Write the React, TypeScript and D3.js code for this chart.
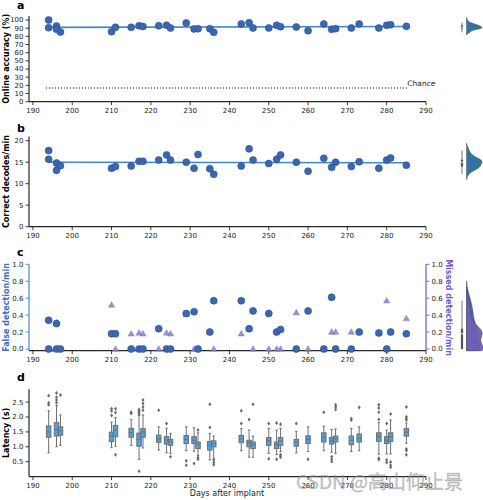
import React from "react";
import * as d3 from "d3";

// ---------- data ----------
const sessionDays = [194, 194, 196, 196, 197, 210, 211, 215, 217, 218, 222, 224, 225, 229, 231, 232, 235, 236, 243, 245, 246, 250, 252, 253, 257, 260, 264, 266, 267, 271, 273, 278, 280, 281, 285];
const accuracy = [100, 90.6, 92.6, 88.6, 85.3, 85.7, 91, 91, 93, 92, 93, 93.5, 90.2, 96.3, 89, 89.4, 89.4, 84.9, 95.1, 96.7, 90.2, 90.2, 93.5, 91.8, 91.4, 86.9, 95.1, 88.6, 89.4, 90.2, 95.1, 90.2, 93.5, 94.3, 92.2];
const correctDecodes = [17.7, 15.7, 14.8, 13.1, 14.2, 13.6, 14.0, 14.1, 15.2, 15.2, 15.5, 16.7, 15.5, 15.0, 13.6, 16.8, 13.5, 12.2, 14.1, 18.1, 15.5, 14.7, 15.7, 16.7, 15.0, 12.9, 15.9, 13.8, 15.0, 14.0, 15.1, 13.6, 15.5, 16.0, 14.3];
const falseDetection = [0.34, 0.0, 0.30, 0.0, 0.0, 0.18, 0.18, 0.0, 0.0, 0.0, 0.24, 0.0, 0.0, 0.42, 0.44, 0.0, 0.20, 0.57, 0.57, 0.24, 0.45, 0.42, 0.20, 0.23, 0.0, 0.45, 0.0, 0.61, 0.0, 0.0, 0.20, 0.19, 0.0, 0.20, 0.18];
const missedDetection = [0.0, 0.0, 0.31, 0.0, 0.0, 0.52, 0.0, 0.18, 0.19, 0.18, 0.0, 0.19, 0.18, 0.41, 0.0, 0.0, 0.20, 0.0, 0.18, 0.24, 0.0, 0.0, 0.0, 0.0, 0.43, 0.0, 0.0, 0.20, 0.20, 0.20, 0.20, 0.19, 0.57, 0.20, 0.36];
const chanceLevel = 16.7;

const boxDays = [194, 196, 197, 210, 211, 215, 217, 218, 222, 224, 225, 229, 231, 232, 235, 236, 243, 245, 246, 250, 252, 253, 257, 260, 264, 266, 267, 271, 273, 278, 280, 281, 285];
const latQ1 = [1.32, 1.36, 1.39, 1.18, 1.34, 1.32, 1.02, 1.32, 1.15, 1.09, 1.05, 1.11, 1.11, 0.94, 0.89, 1.0, 1.14, 1.0, 0.94, 1.05, 0.94, 1.05, 1.02, 1.11, 1.16, 1.09, 1.16, 1.07, 1.16, 1.18, 1.11, 1.18, 1.36];
const latMedian = [1.5, 1.58, 1.54, 1.36, 1.56, 1.47, 1.25, 1.5, 1.27, 1.22, 1.17, 1.25, 1.22, 1.07, 1.05, 1.11, 1.27, 1.14, 1.07, 1.2, 1.07, 1.2, 1.16, 1.25, 1.32, 1.2, 1.27, 1.22, 1.29, 1.34, 1.22, 1.34, 1.49];
const latQ3 = [1.7, 1.81, 1.67, 1.49, 1.72, 1.62, 1.46, 1.61, 1.39, 1.34, 1.25, 1.38, 1.34, 1.16, 1.18, 1.2, 1.38, 1.22, 1.16, 1.31, 1.16, 1.31, 1.25, 1.37, 1.47, 1.31, 1.36, 1.36, 1.43, 1.47, 1.34, 1.47, 1.61];
const latWhiskerLo = [0.8, 1.0, 1.05, 0.97, 1.02, 1.05, 0.58, 0.96, 0.89, 0.8, 0.78, 0.87, 0.85, 0.71, 0.56, 0.6, 0.87, 0.65, 0.65, 0.78, 0.74, 0.84, 0.8, 0.84, 0.87, 0.82, 0.78, 0.84, 0.87, 0.75, 0.76, 0.76, 1.12];
const latWhiskerHi = [2.21, 2.39, 2.07, 1.83, 1.98, 1.92, 2.05, 2.07, 1.67, 1.62, 1.45, 1.67, 1.64, 1.47, 1.45, 1.36, 1.61, 1.56, 1.36, 1.62, 1.56, 1.62, 1.52, 1.67, 1.69, 1.58, 1.6, 1.62, 1.67, 1.81, 1.56, 1.9, 1.8];
const latOutliers = [
  [2.71, 2.48, 2.41], [2.81, 2.66, 2.57, 2.48], [2.74], [2.28, 2.2, 2.05], [2.28, 2.15, 0.73],
  [2.16, 2.12], [2.25, 2.2, 2.15, 2.1, 0.18], [2.57, 2.45, 2.34, 2.23], [2.23], [1.78],
  [0.67], [0.53, 0.38], [0.44], [1.56, 0.65, 0.58], [2.43, 1.65],
  [0.56, 0.47, 0.4], [2.21, 1.78], [1.92], [2.43], [1.78, 0.6],
  [1.8, 0.58], [1.76, 0.73, 0.69, 0.65], [1.78], [0.58], [2.16],
  [0.67, 0.58, 0.51], [2.41, 2.34, 2.25], [1.94, 1.9], [2.32], [2.41, 2.3, 2.16, 1.92, 0.62, 0.57],
  [1.78, 0.56, 0.47], [2.1, 0.49, 0.38, 0.31], [2.34, 2.01, 1.95, 1.9, 0.93, 0.88, 0.73],
];

const xTickValues = [190, 200, 210, 220, 230, 240, 250, 260, 270, 280, 290];
const accTicks = [0, 10, 20, 30, 40, 50, 60, 70, 80, 90, 100];
const decTicks = [0, 5, 10, 15, 20];
const detTicks = [0, 0.2, 0.4, 0.6, 0.8, 1.0];
const latTicks = [0.5, 1.0, 1.5, 2.0, 2.5];

// ---------- styles ----------
const FONT = "DejaVu Sans";
const AX = "#262626";
const DOT = "#3b67b2";
const DOT_EDGE = "#2b4f8e";
const REG = "#3f88cc";
const VIOLIN = "#3274a1";
const BLUE_LBL = "#3a70c0";
const PURPLE = "#6a5acd";
const TRI = "#8b7fc6";
const BOX = "#4aa3df";
const BOX_EDGE = "#6e6e6e";

const x = d3.scaleLinear().domain([189, 290]).range([29, 426]);
const yA = d3.scaleLinear().domain([0, 105]).range([101.7, 15.9]);
const yB = d3.scaleLinear().domain([0, 21]).range([226.7, 136.4]);
const yC = d3.scaleLinear().domain([-0.02, 1.0]).range([350.7, 264.3]);
const yD = d3.scaleLinear().domain([0, 2.93]).range([476.6, 389.3]);

function XAxis({ y0 }: { y0: number }) {
  return (
    <g>
      <line x1={x.range()[0]} x2={x.range()[1]} y1={y0} y2={y0} stroke={AX} strokeWidth={1.2} />
      {xTickValues.map((t) => (
        <g key={t}>
          <line x1={x(t)} x2={x(t)} y1={y0} y2={y0 + 3.5} stroke={AX} strokeWidth={0.9} />
          <text x={x(t)} y={y0 + 11} fontSize={7} textAnchor="middle" fill="#222">{t}</text>
        </g>
      ))}
    </g>
  );
}

function YAxis({ scale, ticks, fmt, side = "left", color = AX, xPos }: any) {
  const [r0, r1] = scale.range();
  const dir = side === "left" ? -1 : 1;
  return (
    <g>
      <line x1={xPos} x2={xPos} y1={r0} y2={r1} stroke={color} strokeWidth={1.2} />
      {ticks.map((t: number) => (
        <g key={t}>
          <line x1={xPos} x2={xPos + dir * 3.5} y1={scale(t)} y2={scale(t)} stroke={color} strokeWidth={0.9} />
          <text x={xPos + dir * 5.5} y={scale(t)} dy="0.35em" fontSize={7} textAnchor={side === "left" ? "end" : "start"} fill="#222">{fmt(t)}</text>
        </g>
      ))}
    </g>
  );
}

function regression(xs: number[], ys: number[]) {
  const mx = d3.mean(xs)!, my = d3.mean(ys)!;
  let num = 0, den = 0;
  xs.forEach((v, i) => { num += (v - mx) * (ys[i] - my); den += (v - mx) ** 2; });
  const slope = num / den;
  return (v: number) => my + slope * (v - mx);
}

function kde(values: number[], lo: number, hi: number) {
  const sd = d3.deviation(values)!;
  const bw = sd * Math.pow(values.length, -1 / 5);
  const a = Math.max(d3.min(values)! - 2 * bw, lo);
  const b = Math.min(d3.max(values)! + 2 * bw, hi);
  const n = 120;
  return d3.range(n + 1).map((i) => {
    const yv = a + ((b - a) * i) / n;
    const dens = d3.mean(values, (v) => Math.exp(-0.5 * ((yv - v) / bw) ** 2))! / bw;
    return [yv, dens] as [number, number];
  });
}

function innerStats(values: number[]) {
  const s = [...values].sort((p, q) => p - q);
  const q1 = d3.quantile(s, 0.25)!, q3 = d3.quantile(s, 0.75)!, med = d3.quantile(s, 0.5)!;
  const iqr = q3 - q1;
  const lo = d3.min(s.filter((v) => v >= q1 - 1.5 * iqr))!;
  const hi = d3.max(s.filter((v) => v <= q3 + 1.5 * iqr))!;
  return { q1, q3, med, lo, hi };
}

function Violin({ series, scale, maxW }: { series: { values: number[]; color: string; opacity: number }[]; scale: any; maxW: number }) {
  const [dlo, dhi] = scale.domain();
  const x0 = 466.5;
  const cx = 462;
  const dens = series.map((s) => kde(s.values, dlo, dhi));
  const maxD = d3.max(dens.flat(), (d) => d[1])!;
  const all = series.flatMap((s) => s.values);
  const st = innerStats(all);
  return (
    <g>
      {dens.map((ds, i) => {
        const area = d3.area<[number, number]>()
          .x0(x0)
          .x1((d) => x0 + (d[1] / maxD) * maxW)
          .y((d) => scale(d[0]));
        return <path key={i} d={area(ds)!} fill={series[i].color} fillOpacity={series[i].opacity} stroke="#4a4a4a" strokeWidth={0.5} />;
      })}
      <line x1={cx} x2={cx} y1={scale(st.lo)} y2={scale(st.hi)} stroke="#555" strokeWidth={0.8} />
      <line x1={cx} x2={cx} y1={scale(st.q1)} y2={scale(st.q3)} stroke="#555" strokeWidth={2.2} />
      <circle cx={cx} cy={scale(st.med)} r={0.8} fill="#fff" />
    </g>
  );
}

function Dots({ ys, scale }: { ys: number[]; scale: any }) {
  return (
    <g>
      {ys.map((v, i) => (
        <circle key={i} cx={x(sessionDays[i])} cy={scale(v)} r={3.5} fill={DOT} stroke={DOT_EDGE} strokeWidth={0.6} />
      ))}
    </g>
  );
}

function RegLine({ ys, scale }: { ys: number[]; scale: any }) {
  const f = regression(sessionDays, ys);
  const d0 = d3.min(sessionDays)!, d1 = d3.max(sessionDays)!;
  return <line x1={x(d0)} x2={x(d1)} y1={scale(f(d0))} y2={scale(f(d1))} stroke={REG} strokeWidth={1.6} />;
}

export default function App() {
  const fmt0 = (t: number) => String(t);
  const fmt1 = d3.format(".1f");
  return (
    <svg width={483} height={500} style={{ position: "absolute", left: 0, top: 0, background: "#fff" }} fontFamily={FONT}>
      {/* ---------- panel a ---------- */}
      <text x={17} y={9} fontSize={11} fontWeight="bold">a</text>
      <YAxis scale={yA} ticks={accTicks} fmt={fmt0} xPos={29} />
      <XAxis y0={yA.range()[0]} />
      <text transform={`translate(6,${(yA.range()[0] + yA.range()[1]) / 2}) rotate(-90)`} fontSize={8} fontWeight="bold" textAnchor="middle" dy="0.35em">Online accuracy (%)</text>
      <line x1={x(d3.min(sessionDays)! - 0.7)} x2={x(d3.max(sessionDays)! + 0.7)} y1={yA(chanceLevel)} y2={yA(chanceLevel)} stroke="#111" strokeWidth={1.1} strokeDasharray="1.1,1.9" />
      <text x={x(d3.max(sessionDays)!) + 1} y={yA(chanceLevel) - 2.5} fontSize={7.5} fill="#222">Chance</text>
      <RegLine ys={accuracy} scale={yA} />
      <Dots ys={accuracy} scale={yA} />
      <Violin series={[{ values: accuracy, color: VIOLIN, opacity: 1 }]} scale={yA} maxW={15.5} />

      {/* ---------- panel b ---------- */}
      <text x={17} y={131.5} fontSize={11} fontWeight="bold">b</text>
      <YAxis scale={yB} ticks={decTicks} fmt={fmt0} xPos={29} />
      <XAxis y0={yB.range()[0]} />
      <text transform={`translate(6,${(yB.range()[0] + yB.range()[1]) / 2}) rotate(-90)`} fontSize={8} fontWeight="bold" textAnchor="middle" dy="0.35em">Correct decodes/min</text>
      <RegLine ys={correctDecodes} scale={yB} />
      <Dots ys={correctDecodes} scale={yB} />
      <Violin series={[{ values: correctDecodes, color: VIOLIN, opacity: 1 }]} scale={yB} maxW={15.5} />

      {/* ---------- panel c ---------- */}
      <text x={17} y={256} fontSize={11} fontWeight="bold">c</text>
      <YAxis scale={yC} ticks={detTicks} fmt={fmt1} xPos={29} color="#4a86c8" />
      <YAxis scale={yC} ticks={detTicks} fmt={fmt1} xPos={426} side="right" color={PURPLE} />
      <XAxis y0={yC.range()[0]} />
      <text transform={`translate(6,${(yC.range()[0] + yC.range()[1]) / 2}) rotate(-90)`} fontSize={8} fontWeight="bold" textAnchor="middle" dy="0.35em" fill={BLUE_LBL}>False detection/min</text>
      <text transform={`translate(449,${(yC.range()[0] + yC.range()[1]) / 2}) rotate(90)`} fontSize={8} fontWeight="bold" textAnchor="middle" dy="0.35em" fill={PURPLE}>Missed detection/min</text>
      {missedDetection.map((v, i) => {
        const cx = x(sessionDays[i]), cy = yC(v);
        return <path key={i} d={`M${cx},${cy - 3.3}L${cx + 3.2},${cy + 2.3}L${cx - 3.2},${cy + 2.3}Z`} fill={TRI} fillOpacity={0.85} stroke="#7a6cbd" strokeWidth={0.4} />;
      })}
      <Dots ys={falseDetection} scale={yC} />
      <Violin
        series={[
          { values: falseDetection, color: "#3f67ad", opacity: 1 },
          { values: missedDetection, color: "#6e60b4", opacity: 0.95 },
        ]}
        scale={yC}
        maxW={16.5}
      />

      {/* ---------- panel d ---------- */}
      <text x={17} y={381} fontSize={11} fontWeight="bold">d</text>
      <YAxis scale={yD} ticks={latTicks} fmt={fmt1} xPos={29} />
      <XAxis y0={yD.range()[0]} />
      <text transform={`translate(6,${(yD.range()[0] + yD.range()[1]) / 2}) rotate(-90)`} fontSize={8} fontWeight="bold" textAnchor="middle" dy="0.35em">Latency (s)</text>
      <text x={227} y={496} fontSize={8} textAnchor="middle" fill="#222">Days after implant</text>
      {boxDays.map((day, i) => {
        const cx = x(day);
        const w = 4.5;
        return (
          <g key={day}>
            <line x1={cx} x2={cx} y1={yD(latWhiskerLo[i])} y2={yD(latQ1[i])} stroke={BOX_EDGE} strokeWidth={1} />
            <line x1={cx} x2={cx} y1={yD(latQ3[i])} y2={yD(latWhiskerHi[i])} stroke={BOX_EDGE} strokeWidth={1} />
            <line x1={cx - 1.2} x2={cx + 1.2} y1={yD(latWhiskerLo[i])} y2={yD(latWhiskerLo[i])} stroke={BOX_EDGE} strokeWidth={1} />
            <line x1={cx - 1.2} x2={cx + 1.2} y1={yD(latWhiskerHi[i])} y2={yD(latWhiskerHi[i])} stroke={BOX_EDGE} strokeWidth={1} />
            <rect x={cx - w / 2} y={yD(latQ3[i])} width={w} height={yD(latQ1[i]) - yD(latQ3[i])} fill={BOX} stroke={BOX_EDGE} strokeWidth={1} />
            <line x1={cx - w / 2} x2={cx + w / 2} y1={yD(latMedian[i])} y2={yD(latMedian[i])} stroke={BOX_EDGE} strokeWidth={1} />
            {latOutliers[i].map((o, j) => {
              const oy = yD(o);
              return <path key={j} d={`M${cx},${oy - 2}L${cx + 1.5},${oy}L${cx},${oy + 2}L${cx - 1.5},${oy}Z`} fill="#6a6a6a" />;
            })}
          </g>
        );
      })}

      {/* watermark */}
      <text x={296} y={489} fontSize={19} fontFamily="Noto Sans CJK SC" fill="#9a9a9a" fillOpacity={0.55} stroke="#777" strokeOpacity={0.35} strokeWidth={0.6}>CSDN @高山仰止景</text>
    </svg>
  );
}
